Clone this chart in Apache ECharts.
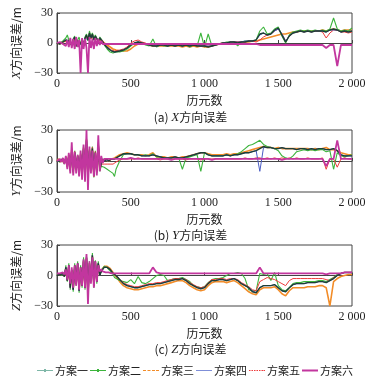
<!DOCTYPE html>
<html><head><meta charset="utf-8">
<script src="https://cdn.jsdelivr.net/npm/echarts@6/dist/echarts.min.js"></script>
<style>html,body{margin:0;padding:0;background:#fff}#c{width:381px;height:384px}</style>
</head><body><div id="c"></div>
<script>
const epochs = [0,10,20,30,40,50,60,70,80,90,100,110,120,130,140,150,160,170,180,190,200,210,220,230,240,250,260,270,280,290,300,310,320,330,340,350,360,370,380,390,400,
425,450,475,500,525,550,575,600,625,650,675,700,725,750,775,800,825,850,875,900,925,950,975,1000,1025,1050,1075,1100,1125,1150,1175,1200,1225,1250,1275,1300,1325,1350,1375,1400,1425,1450,1475,1500,1525,1550,1575,1600,1625,1650,1675,1700,1725,1750,1775,1800,1825,1850,1875,1900,1925,1950,1975,2000];
const seriesNames = ['方案一','方案二','方案三','方案四','方案五','方案六'];
const xTicks = [0,500,1000,1500,2000];
const yTicks = [-30,0,30];
const panelTitles = ['(a) ','(b) ','(c) '];
const axisLetters = ['X','Y','Z'];

// X direction error (m)
const x1 = [0,0,-1,0,1,-1,3,5,2,4,-2,3,6,-3,2,4,-1,3,-2,5,8,3,10,5,9,3,7,8,2,5,3,1,-1,-3,-4,-6,-7,-8,-9,-9,-9,
-8,-7,-5,-2,0,1,0,-1,-2,-3,-3,-2,-2,-3,-2,-3,-2,-3,-2,-3,-2,-3,-3,-3,-4,-3,-2,-1,0,0,1,1,0,1,1,2,2,3,9,10,8,9,13,15,8,1,7,10,11,12,11,12,11,12,12,12,11,13,14,13,11,12,11,12];
const x2 = [0,1,0,-1,2,0,5,8,3,2,-3,4,7,-4,3,6,-2,4,-3,6,9,2,12,6,10,4,8,9,1,6,4,2,-2,-4,-6,-8,-9,-11,-10,-10,-9,
-9,-8,-6,-3,0,1,0,-2,-3,4,-4,-2,-3,-3,-2,-3,-2,-3,-2,-4,-2,-3,10,-4,9,-3,-2,-1,0,1,1,1,-3,1,2,2,2,3,12,16,9,10,14,16,7,0,8,11,12,13,12,13,12,13,12,13,12,14,25,14,12,13,12,15];
const x3 = [0,0,-1,0,1,-1,2,4,1,3,-2,2,5,-2,2,3,-1,2,-2,4,7,3,9,5,8,3,6,7,2,4,3,1,0,-1,-2,-3,-4,-5,-6,-7,-7,
-8,-8,-8,-6,-3,-1,0,-1,-2,-3,-3,-3,-3,-3,-3,-3,-3,-4,-3,-4,-3,-4,-3,-4,-4,-3,-2,-1,0,0,0,1,1,1,1,1,2,2,3,4,5,6,7,8,9,9,10,11,11,12,12,12,12,12,12,13,12,13,14,13,12,13,13,13];
const x4 = [0,0,-1,0,1,-1,3,4,2,3,-2,3,5,-3,2,4,-1,3,-2,5,7,3,9,5,8,3,6,7,2,5,3,1,-1,-3,-4,-5,-7,-8,-8,-9,-9,
-8,-7,-5,-2,0,1,0,-1,-2,-2,-3,-2,-2,-3,-2,-2,-2,-3,-2,-3,-2,-2,-3,-3,-3,-3,-2,-1,0,0,1,1,1,1,2,2,2,3,8,10,8,9,12,14,9,2,7,10,11,12,11,12,11,12,12,12,11,13,13,13,11,12,11,12];
const x5 = [0,1,0,0,1,0,2,4,2,3,-1,3,5,-2,2,4,0,3,-2,4,7,3,9,4,8,3,6,7,2,5,3,2,0,-2,-3,-5,-6,-7,-8,-8,-8,
-7,-6,-4,0,2,3,1,0,-2,-2,-3,-2,-2,-2,-2,-3,-2,-2,-2,-3,-2,-3,-3,-3,-3,-3,-2,-1,0,0,1,1,1,1,1,2,2,1,3,6,8,9,12,14,9,2,7,10,11,12,11,12,11,12,12,11,5,10,13,13,11,11,10,11];
const x6 = [0,0,1,0,-1,1,-3,3,-4,5,-5,4,-6,6,-4,3,-30,5,-6,4,-5,-30,6,-5,4,-6,5,-3,4,-2,2,-1,1,-1,0,-1,-1,-1,-1,-1,-1,
-1,-1,-1,-1,-1,-1,-1,-1,-1,-1,-1,-1,-1,-1,-1,-1,-1,-1,-1,-1,-1,-1,-1,-1,-1,-1,-1,-1,-1,-1,-1,-1,-1,-1,-1,-1,-1,-1,-2,-2,-2,-2,-2,-2,-2,-2,-2,-2,-2,-2,-2,-2,-2,-2,-2,-2,-5,-2,-2,-23,-2,-2,-2,-2];

// Y direction error (m)
const y1 = [0,1,0,1,2,-2,3,-5,5,-8,10,-10,8,-6,5,-12,6,-10,12,-15,20,-15,10,-8,12,-14,8,-10,15,-8,-3,2,0,1,2,0,1,2,1,2,3,
5,7,7,7,6,6,5,5,5,6,5,4,3,3,3,4,3,3,4,5,6,7,8,8,6,5,5,5,5,6,5,6,6,7,8,8,9,10,12,14,13,13,12,12,13,12,12,12,11,12,12,11,12,11,12,12,11,11,12,10,6,5,5,5];
const y2 = [0,1,-1,2,3,-3,4,-6,6,-10,12,-12,10,-8,6,-14,8,-12,15,-18,22,-18,12,-10,14,-16,10,-12,18,-10,-5,-4,-6,-7,-8,-9,-10,-9,-12,-15,-8,
0,6,7,7,6,6,5,6,5,7,4,4,3,2,3,3,3,-8,3,4,5,6,-10,8,6,5,5,5,5,6,5,6,7,9,12,15,16,18,20,16,14,13,12,10,5,3,2,5,9,10,11,10,11,10,11,11,9,10,-8,8,5,4,5,6];
const y3 = [0,2,-1,1,2,-2,3,-6,6,-9,11,-11,9,-7,5,-13,7,-11,13,-16,21,-16,11,-9,13,-15,9,-11,16,-9,-2,1,0,1,1,0,1,2,2,3,4,
6,7,8,7,6,6,6,5,6,8,4,4,4,3,4,4,3,4,4,5,6,7,8,8,7,6,6,6,6,7,6,7,7,8,9,10,11,12,13,14,13,13,12,13,12,12,12,12,12,12,12,12,11,12,11,12,13,11,11,10,8,7,6,6];
const y4 = [0,1,0,1,2,-2,3,-5,5,-8,10,-10,8,-6,5,-12,6,-10,12,-15,20,-15,10,-8,12,-14,8,-10,15,-8,-2,1,0,1,1,0,1,2,1,2,3,
5,7,7,7,6,6,5,5,5,6,5,4,3,3,3,4,3,3,4,5,6,7,8,8,6,5,5,5,5,6,5,6,6,7,8,8,9,10,-10,13,13,13,12,12,13,12,12,12,11,12,12,11,12,11,12,12,11,11,12,10,6,5,5,5];
const y5 = [0,2,-1,1,2,-2,3,-6,6,-9,11,-11,9,-7,5,-13,7,-11,13,-16,21,-16,11,-9,13,-15,9,-11,16,-9,-3,-2,-3,-2,-3,-4,-3,-2,-3,-2,-1,
1,2,2,2,2,3,2,2,2,2,2,1,2,2,2,2,2,2,1,2,2,2,1,2,2,2,2,2,2,2,2,2,2,2,3,2,2,3,3,2,3,2,3,2,3,2,3,2,3,2,2,3,2,2,2,3,-8,2,2,-6,2,3,2,2];
const y6 = [0,1,2,-1,3,-3,5,-8,8,-12,18,-14,9,-12,6,-15,10,-18,16,-20,30,-28,14,-12,10,-15,8,-14,25,-10,5,-2,2,1,2,3,2,1,2,2,2,
2,2,2,3,2,2,2,2,2,2,2,2,2,2,1,2,2,2,2,2,2,2,2,2,2,1,2,2,2,2,2,2,2,2,2,2,2,2,2,2,2,2,2,2,1,2,2,2,2,2,2,2,2,2,2,2,-5,2,2,20,2,2,2,2];

// Z direction error (m)
const z1 = [0,0,1,0,2,-1,8,-5,10,-12,5,-14,10,-8,12,-15,8,-10,15,-12,18,-20,12,-5,20,-10,14,-6,12,0,4,6,8,7,8,7,6,4,2,1,0,
-4,-8,-10,-11,-12,-12,-11,-10,-9,-9,-8,-8,-7,-6,-5,-4,-4,-3,-5,-8,-10,-12,-13,-12,-8,-5,-5,-4,-4,-5,-4,-3,-5,-8,-10,-12,-16,-17,-12,-10,-10,-10,-9,-12,-15,-16,-12,-9,-8,-8,-8,-7,-7,-7,-6,-6,-7,-5,-3,0,2,3,3,3];
const z2 = [0,1,2,0,3,-1,10,-6,12,-14,6,-16,12,-10,14,-17,10,-12,18,-14,20,-22,14,-6,22,-12,15,-8,14,1,5,7,9,8,8,6,5,3,1,-2,-3,
-5,-6,-7,-4,-8,-1,-7,-8,-6,-3,0,1,0,-5,-4,-3,-3,-2,-4,-6,-10,-11,-12,-11,-7,-4,-3,-3,-2,0,2,2,3,2,-3,-14,-15,-15,2,1,2,-5,3,-10,-14,-15,-12,-8,-7,-7,-6,-6,-6,-6,-5,-5,-6,-4,-2,1,2,3,3,3];
const z3 = [0,0,1,0,2,-1,7,-5,9,-11,5,-13,9,-8,11,-14,8,-10,14,-12,17,-19,12,-5,19,-10,13,-6,11,1,5,7,9,8,9,8,7,5,3,1,-1,
-6,-10,-12,-13,-14,-14,-13,-12,-11,-11,-10,-10,-9,-8,-7,-6,-5,-5,-7,-10,-12,-14,-15,-14,-10,-7,-6,-6,-6,-7,-6,-5,-7,-10,-13,-16,-18,-19,-14,-12,-12,-12,-11,-14,-18,-20,-15,-12,-12,-12,-12,-11,-11,-11,-10,-10,-12,-30,-6,-3,-1,0,1,1];
const z4 = [0,0,1,0,2,-1,8,-5,10,-12,5,-14,10,-8,12,-15,8,-10,15,-12,18,-20,12,-5,20,-10,14,-6,12,0,4,6,8,7,8,7,6,4,2,1,0,
-4,-8,-10,-11,-12,-12,-11,-10,-9,-9,-8,-8,-7,-6,-5,-4,-4,-3,-5,-8,-10,-12,-13,-12,-8,-5,-5,-4,-4,-5,-4,-3,-5,-8,-10,-12,-15,-17,-12,-10,-10,-10,-9,-12,-15,-16,-12,-9,-8,-8,-8,-7,-7,-7,-6,-6,-7,-5,-3,0,2,3,3,3];
const z5 = [0,0,1,0,2,-1,8,-5,10,-12,5,-14,10,-8,12,-15,8,-10,15,-12,18,-20,12,-5,20,-10,14,-6,12,0,4,6,8,7,8,7,6,4,2,1,0,
-4,-7,-9,-10,-11,-11,-10,-9,-8,-8,-7,-7,-6,-5,-4,-3,-3,-3,-4,-7,-9,-11,-12,-11,-7,-4,-4,-3,-3,-4,-3,-3,-4,-7,-9,-11,-14,-15,-6,-4,-2,-3,-4,-6,-8,-10,-5,-3,-3,-3,-3,-3,-3,-3,-3,-3,-4,-5,-2,0,2,3,3,3];
const z6 = [2,2,2,2,3,1,6,-4,10,-8,8,-12,10,-10,12,-14,8,-10,16,-12,21,-28,14,-8,18,-12,14,-6,10,4,6,4,5,3,3,3,2,2,2,2,2,
2,2,2,2,2,2,2,2,2,8,3,2,2,2,2,2,2,2,2,2,2,2,2,2,2,2,2,2,2,2,2,2,2,2,2,2,2,2,8,2,2,2,2,2,2,2,2,2,2,2,2,2,2,2,2,2,1,2,2,2,2,3,3,3];

const panels = [[x1,x2,x3,x4,x5,x6],[y1,y2,y3,y4,y5,y6],[z1,z2,z3,z4,z5,z6]];
const colors = ['#1e3f36','#3cb43c','#f28c28','#4a5cc4','#ee3b3b','#c2369e'];
const legendLineColors = ['#7fb7a8','#3cb43c','#f28c28','#7f8fd8','#ee3b3b','#c2369e'];
const widths = [1.4,1.1,1.6,1,1,1.8];
const zOrder = [6,3,2,5,4,9];

const gridTops = [13,130,245];
const gridHeights = [60,62,61];
const serif = 'Liberation Serif, Times New Roman, serif';
const cjk = 'Noto Sans CJK SC';

const grids = [], xAxes = [], yAxes = [], series = [];
for (let p = 0; p < 3; p++) {
  grids.push({left:57, top:gridTops[p], width:295, height:gridHeights[p], show:true, borderColor:'#444', borderWidth:1, backgroundColor:'transparent'});
  xAxes.push({type:'value', gridIndex:p, min:xTicks[0], max:xTicks[xTicks.length-1], interval:500,
    axisLine:{lineStyle:{color:'#444'}}, axisTick:{inside:true, length:3, lineStyle:{color:'#444'}},
    splitLine:{show:false},
    axisLabel:{color:'#222', fontFamily:serif, fontSize:12, margin:5,
      formatter:v=>v>=1000?String(v).replace(/(\d)(\d{3})$/,'$1 $2'):String(v)},
    name:'历元数', nameLocation:'middle', nameGap:21, nameTextStyle:{fontFamily:cjk, fontSize:12, color:'#222'}});
  yAxes.push({type:'value', gridIndex:p, min:yTicks[0], max:yTicks[yTicks.length-1], interval:30,
    axisLine:{show:true, lineStyle:{color:'#444'}}, axisTick:{inside:true, length:3, lineStyle:{color:'#444'}},
    splitLine:{show:false},
    axisLabel:{color:'#222', fontFamily:serif, fontSize:12, margin:4, formatter:v=>String(v).replace('-','\u2212')},
    name:'{i|'+axisLetters[p]+'}方向误差/m', nameLocation:'middle', nameGap:27, nameRotate:90,
    nameTextStyle:{fontFamily:cjk, fontSize:12, color:'#222', rich:{i:{fontFamily:serif, fontStyle:'italic', fontSize:13, color:'#222'}}}});
  panels[p].forEach((arr, s) => {
    series.push({name:seriesNames[s], type:'line', xAxisIndex:p, yAxisIndex:p,
      data:epochs.map((e,i)=>[e,arr[i]]), showSymbol:false, symbol:'circle', symbolSize:3,
      lineStyle:{color:colors[s], width:widths[s]}, itemStyle:{color:colors[s]}, z:zOrder[s], animation:false});
  });
}

const captionY = [119,237,351];
const graphics = captionY.map((y,p)=>({type:'text', left:'center', top:y-8,
  style:{text:panelTitles[p]+'{i|'+axisLetters[p]+'}方向误差', x:0, fill:'#222', font:'12px '+cjk,
    rich:{i:{fontFamily:serif, fontStyle:'italic', fontSize:13, fill:'#222'}}}}));

const thinIcon = 'path://M0,4.5L16,4.5L16,5.5L0,5.5Z';
const dotIcon = 'path://M0,4.5L16,4.5L16,5.5L0,5.5Z M7,3.5L9,3.5L9,6.5L7,6.5Z';
const dashIcon = 'path://M0,4.5h3v1h-3Z M4.5,4.5h3v1h-3Z M9,4.5h3v1h-3Z M13,4.5h3v1h-3Z';
const dotLineIcon = 'path://M0,4.5h1.5v1h-1.5Z M2.5,4.5h1.5v1h-1.5Z M5,4.5h1.5v1h-1.5Z M7.5,4.5h1.5v1h-1.5Z M10,4.5h1.5v1h-1.5Z M12.5,4.5h1.5v1h-1.5Z M14.5,4.5h1.5v1h-1.5Z';
const thickIcon = 'path://M0,4L16,4L16,6L0,6Z';
const legendIcons = [dotIcon,dotIcon,dashIcon,thinIcon,dotLineIcon,thickIcon];

const chart = echarts.init(document.getElementById('c'), null, {renderer:'canvas'});
chart.setOption({
  animation:false,
  grid:grids, xAxis:xAxes, yAxis:yAxes, series:series,
  legend:{data:seriesNames.map((n,i)=>({name:n, icon:legendIcons[i], itemStyle:{color:legendLineColors[i]}})),
    left:37, top:365, itemWidth:16, itemHeight:10, itemGap:2, padding:0,
    textStyle:{fontFamily:cjk, fontSize:11, color:'#222', padding:[0,0,0,-3]}},
  graphic:graphics
});
</script></body></html>
